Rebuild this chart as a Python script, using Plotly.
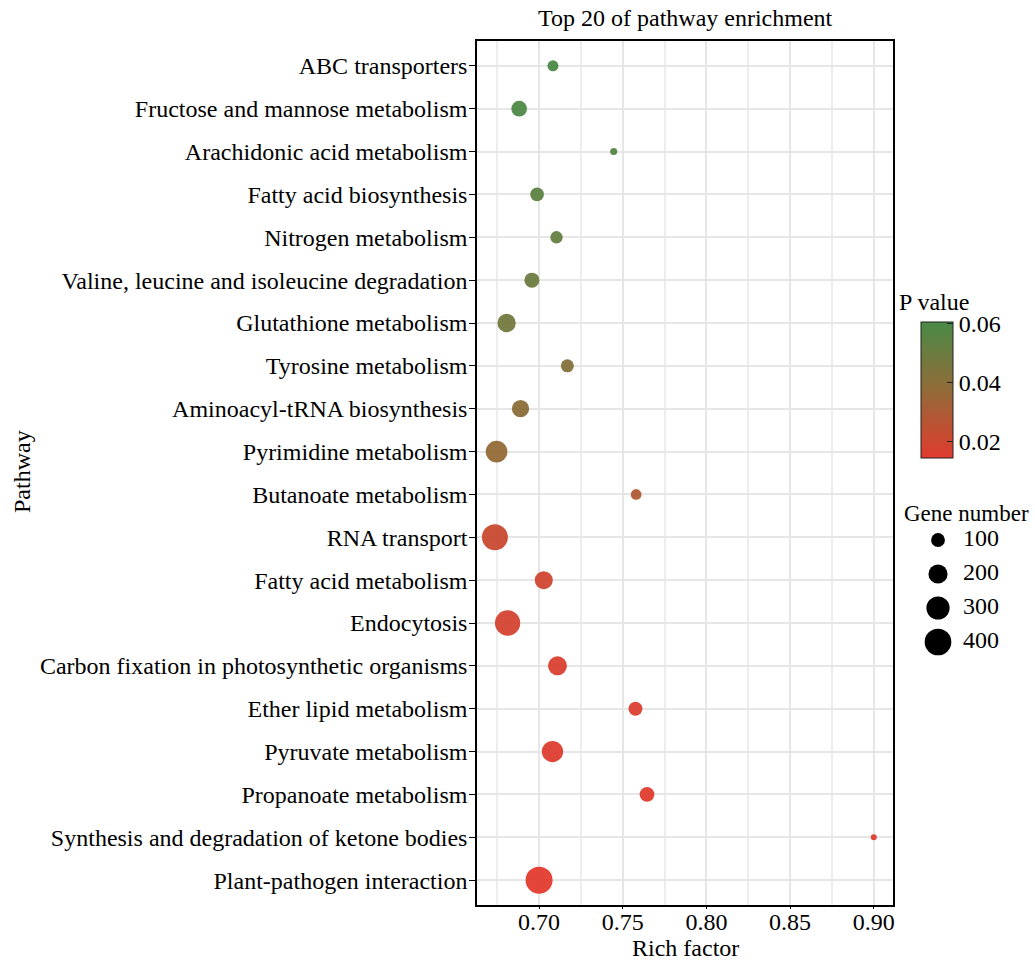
import plotly.graph_objects as go
import numpy as np

# ---------------- data (top to bottom as displayed) ----------------
pathways = [
    "ABC transporters",
    "Fructose and mannose metabolism",
    "Arachidonic acid metabolism",
    "Fatty acid biosynthesis",
    "Nitrogen metabolism",
    "Valine, leucine and isoleucine degradation",
    "Glutathione metabolism",
    "Tyrosine metabolism",
    "Aminoacyl-tRNA biosynthesis",
    "Pyrimidine metabolism",
    "Butanoate metabolism",
    "RNA transport",
    "Fatty acid metabolism",
    "Endocytosis",
    "Carbon fixation in photosynthetic organisms",
    "Ether lipid metabolism",
    "Pyruvate metabolism",
    "Propanoate metabolism",
    "Synthesis and degradation of ketone bodies",
    "Plant-pathogen interaction",
]
rich_factor = [0.7083, 0.6881, 0.7446, 0.6988, 0.7104, 0.6957, 0.6806, 0.7169,
               0.6889, 0.6746, 0.7580, 0.6736, 0.7028, 0.6812, 0.7110, 0.7576,
               0.7080, 0.7645, 0.9000, 0.7000]
gene_number = [59, 131, 18, 97, 77, 119, 183, 87, 162, 260, 55, 379, 176, 358,
               198, 102, 251, 114, 10, 410]
p_value = [0.0605, 0.0595, 0.0570, 0.0545, 0.0520, 0.0500, 0.0475, 0.0420,
           0.0400, 0.0370, 0.0290, 0.0215, 0.0195, 0.0180, 0.0165, 0.0160,
           0.0155, 0.0150, 0.0146, 0.0143]

legend_sizes = [100, 200, 300, 400]
x_ticks = [0.70, 0.75, 0.80, 0.85, 0.90]
cbar_ticks = [0.02, 0.04, 0.06]

# ---------------- styling helpers ----------------
FONT = "Liberation Serif"
FS = 24
W, H = 1035, 961
nmin, nmax = min(gene_number), max(gene_number)
DMIN, DMAX = 6.0, 27.0


def diam(n):
    frac = (n - nmin) / (nmax - nmin)
    return float(np.sqrt(DMIN ** 2 + (DMAX ** 2 - DMIN ** 2) * frac))


colorscale = [[0.0, "#E13B2E"], [0.5, "#926B38"], [1.0, "#4A8A46"]]

# plot area in pixels
PL, PR, PT, PB = 477, 893, 41, 905

fig = go.Figure()

fig.add_trace(go.Scatter(
    x=rich_factor,
    y=list(range(len(pathways))),
    mode="markers",
    marker=dict(
        size=[diam(n) for n in gene_number],
        sizemode="diameter",
        color=p_value,
        colorscale=colorscale,
        line=dict(width=0),
        opacity=0.95,
        colorbar=dict(
            xref="paper", yref="paper",
            x=921 / W, xanchor="left",
            y=1 - 322 / H, yanchor="top",
            len=136, lenmode="pixels",
            thickness=32, thicknessmode="pixels",
            xpad=0, ypad=0,
            outlinewidth=1, outlinecolor="#222",
            tickvals=cbar_ticks,
            ticktext=["%.2f" % t for t in cbar_ticks],
            ticks="inside", ticklen=6, tickcolor="#222", tickwidth=1,
            tickfont=dict(family=FONT, size=FS, color="black"),
        ),
    ),
    showlegend=False,
    hoverinfo="skip",
))

# size legend drawn on its own small axis
fig.add_trace(go.Scatter(
    x=[0] * len(legend_sizes),
    y=list(range(len(legend_sizes))),
    mode="markers",
    marker=dict(size=[diam(n) for n in legend_sizes], sizemode="diameter",
                color="black", opacity=1, line=dict(width=0)),
    xaxis="x2", yaxis="y2", showlegend=False, hoverinfo="skip",
))
fig.add_trace(go.Scatter(
    x=[1] * len(legend_sizes),
    y=list(range(len(legend_sizes))),
    mode="text",
    text=[str(n) for n in legend_sizes],
    textposition="middle right",
    textfont=dict(family=FONT, size=FS, color="black"),
    xaxis="x2", yaxis="y2", showlegend=False, hoverinfo="skip",
))

fig.update_layout(
    width=W, height=H,
    margin=dict(l=0, r=0, t=0, b=0, autoexpand=False),
    paper_bgcolor="white",
    plot_bgcolor="white",
    font=dict(family=FONT, size=FS, color="black"),
    xaxis=dict(
        domain=[PL / W, PR / W],
        range=[0.6629, 0.9115],
        tickvals=x_ticks,
        ticktext=["%.2f" % t for t in x_ticks],
        ticks="outside", ticklen=2, tickcolor="black",
        ticklabelstandoff=-8,
        tickfont=dict(family=FONT, size=FS, color="black"),
        showgrid=True, gridcolor="#E6E6E6", gridwidth=1.5,
        minor=dict(dtick=0.025, tick0=0.675, showgrid=True,
                   gridcolor="#EDEDED", gridwidth=1.5, ticks=""),
        showline=True, linecolor="black", linewidth=1.5, mirror=True,
        zeroline=False,
    ),
    yaxis=dict(
        domain=[1 - PB / H, 1 - PT / H],
        range=[19.58, -0.58],
        tickvals=list(range(len(pathways))),
        ticktext=pathways,
        ticks="outside", ticklen=6, tickcolor="black",
        ticklabelstandoff=-3,
        tickfont=dict(family=FONT, size=FS, color="black"),
        showgrid=True, gridcolor="#E6E6E6", gridwidth=1.5,
        showline=True, linecolor="black", linewidth=1.5, mirror=True,
        zeroline=False,
    ),
    xaxis2=dict(domain=[900 / W, 1.0], range=[-1.52, 3.88], visible=False,
                anchor="y2"),
    yaxis2=dict(domain=[1 - 660 / H, 1 - 520 / H], range=[3.53, -0.59],
                visible=False, anchor="x2"),
    annotations=[
        dict(text="Top 20 of pathway enrichment", xref="paper", yref="paper",
             x=(PL + PR) / 2 / W, y=1 - 18 / H, xanchor="center",
             yanchor="middle", showarrow=False,
             font=dict(family=FONT, size=FS, color="black")),
        dict(text="Rich factor", xref="paper", yref="paper",
             x=(PL + PR) / 2 / W, y=1 - 948 / H, xanchor="center",
             yanchor="middle", showarrow=False,
             font=dict(family=FONT, size=FS, color="black")),
        dict(text="Pathway", xref="paper", yref="paper",
             x=22 / W, y=1 - 472 / H, xanchor="center", yanchor="middle",
             textangle=-90, showarrow=False,
             font=dict(family=FONT, size=FS, color="black")),
        dict(text="P value", xref="paper", yref="paper",
             x=897 / W, y=1 - 302 / H, xanchor="left", yanchor="middle",
             showarrow=False, font=dict(family=FONT, size=FS, color="black")),
        dict(text="Gene number", xref="paper", yref="paper",
             x=902 / W, y=1 - 513 / H, xanchor="left", yanchor="middle",
             showarrow=False, font=dict(family=FONT, size=FS - 1,
                                        color="black")),
    ],
)

fig.write_html("out.html")
